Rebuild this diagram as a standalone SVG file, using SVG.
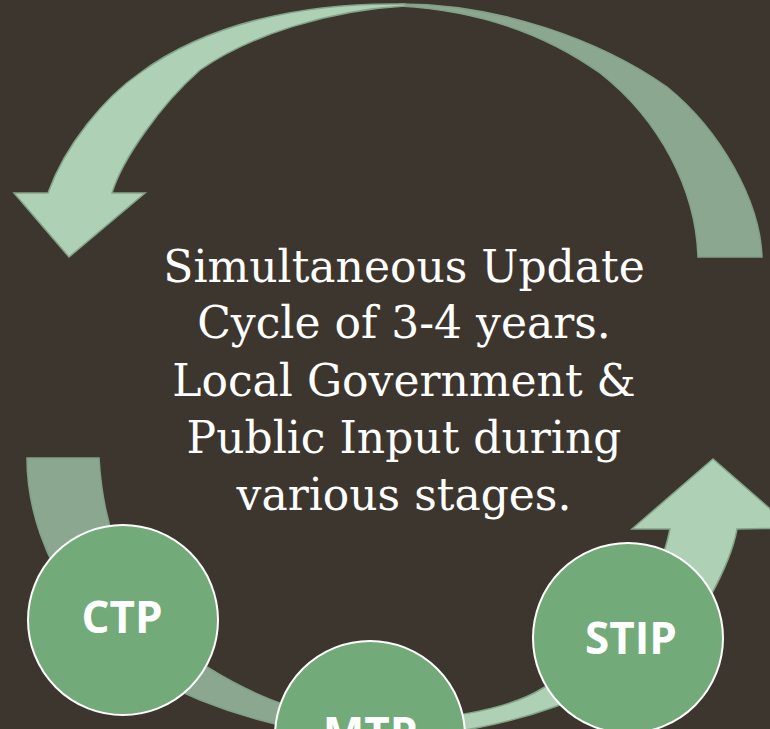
<svg xmlns="http://www.w3.org/2000/svg" width="770" height="729" viewBox="0 0 770 729">
  <style>
    .light { fill: #aed0b4; stroke: #84a48a; stroke-width: 1.5; stroke-linejoin: miter; }
    .dark { fill: #8ba78f; stroke: #82a087; stroke-width: 1.5; }
    .node circle { fill: #73aa7a; stroke: #ffffff; stroke-width: 2; }
    .node text { font-family: "Open Sans", "DejaVu Sans", sans-serif; font-weight: bold; font-size: 44px; fill: #ffffff; text-anchor: middle; }
    .center { font-family: "DejaVu Serif", "Liberation Serif", serif; font-size: 44px; fill: #ffffff; text-anchor: middle; }
  </style>
  <rect x="0" y="0" width="770" height="729" fill="#3d362e"/>
  <g id="connectors">
    <!-- top right dark arc -->
    <path class="dark" d="M400,4 C500,4 600,40 667,87 C720,130 760,200 762,257 L698,257 C696,190 660,120 600,73 C540,30 470,10 400,6 Z"/>
    <!-- top left light arrow -->
    <path class="light" d="M405,4 C300,2 205,25 140,73 C105,97 65,145 48,193 L14,193 L69,257 L145,193 L112,193 C122,160 160,105 200,70 C250,35 330,10 405,6 Z"/>
    <!-- bottom left dark band -->
    <path class="dark" d="M27,458 C27,560 100,660 200,700 C250,720 310,735 370,737 L370,720 C310,718 260,700 207,667 C150,630 105,560 99,458 Z"/>
    <!-- bottom right light arrow -->
    <path class="light" d="M370,737 C480,740 640,700 710,597 C722,575 733,552 737,529 L792,528 L713,459 L632,529 L670,529 C660,580 620,650 543,688 C505,712 430,722 370,721 Z"/>
  </g>
  <g id="label">
    <text class="center" x="404" y="282">Simultaneous Update</text>
    <text class="center" x="404" y="338">Cycle of 3-4 years.</text>
    <text class="center" x="404" y="396">Local Government &amp;</text>
    <text class="center" x="404" y="453">Public Input during</text>
    <text class="center" x="404" y="510">various stages.</text>
  </g>
  <g id="node-ctp" class="node">
    <circle cx="123" cy="620" r="95"/>
    <text x="122" y="633">CTP</text>
  </g>
  <g id="node-mtp" class="node">
    <circle cx="370" cy="736" r="95"/>
    <text x="370" y="749">MTP</text>
  </g>
  <g id="node-stip" class="node">
    <circle cx="628" cy="638" r="95"/>
    <text x="631" y="654">STIP</text>
  </g>
</svg>
